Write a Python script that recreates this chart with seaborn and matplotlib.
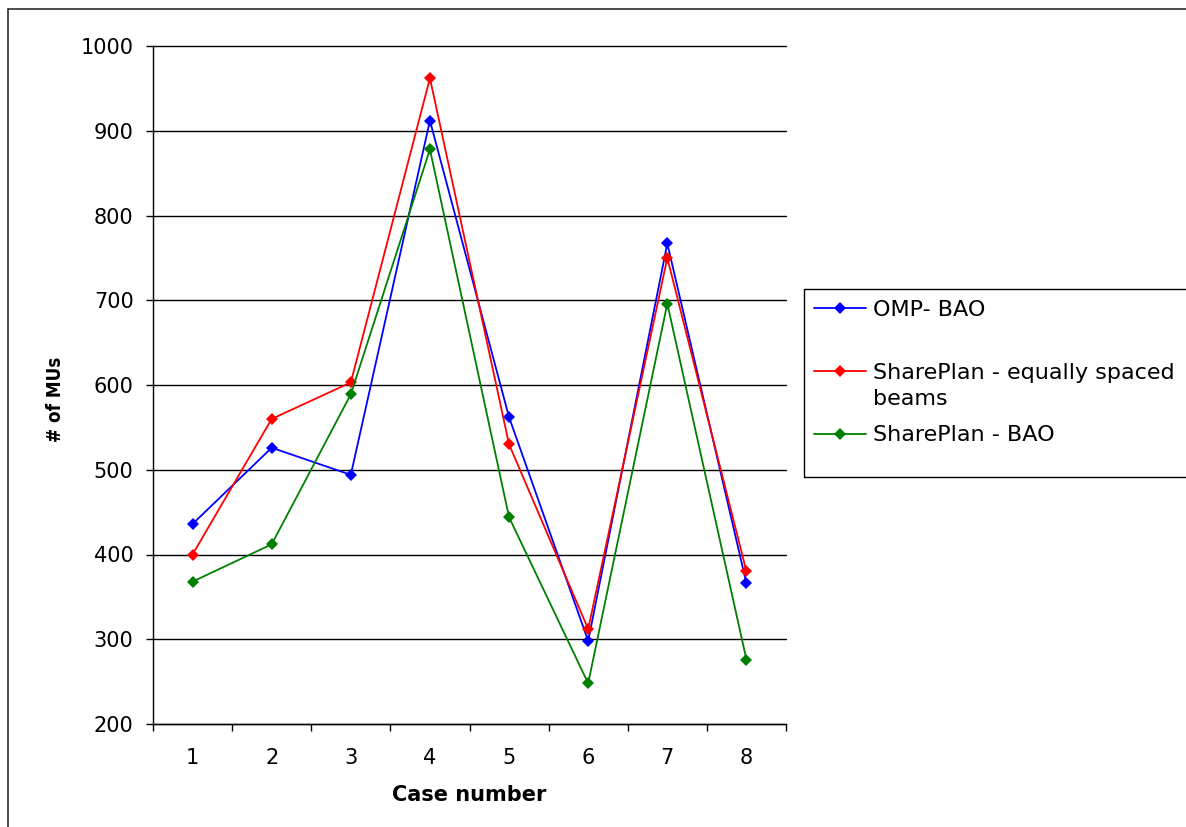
import numpy as np
import pandas as pd
import matplotlib
matplotlib.use("Agg")
import matplotlib.pyplot as plt
from matplotlib.patches import Rectangle
import seaborn as sns

# Monitor units per case for the three planning approaches
cases = [1, 2, 3, 4, 5, 6, 7, 8]
omp_bao = [436, 526, 494, 912, 562, 298, 767, 366]
shareplan_equal = [400, 560, 603, 962, 530, 312, 750, 380]
shareplan_bao = [368, 412, 589, 878, 444, 248, 696, 276]

series_names = ["OMP- BAO", "SharePlan - equally spaced", "SharePlan - BAO"]
series_colors = ["#0000FF", "#FF0000", "#008000"]
y_ticks = [200, 300, 400, 500, 600, 700, 800, 900, 1000]

df = pd.DataFrame({
    "case": cases * 3,
    "mus": omp_bao + shareplan_equal + shareplan_bao,
    "series": [s for s in series_names for _ in cases],
})

sns.set_theme(style="white")
plt.rcParams["font.family"] = ["DejaVu Sans"]
plt.rcParams["text.color"] = "black"
plt.rcParams["legend.labelcolor"] = "black"

W, H = 1186, 827
fig = plt.figure(figsize=(W / 100, H / 100), dpi=100)
fig.patch.set_facecolor("white")

ax = fig.add_axes([153 / W, 1 - 724 / H, (786 - 153) / W, (724 - 46) / H])
ax.set_facecolor("white")

sns.lineplot(data=df, x="case", y="mus", hue="series", hue_order=series_names,
             palette=series_colors, marker="D", markersize=6.4,
             markeredgewidth=0, linewidth=1.3, ax=ax, legend=False)

# Axis limits and category ticks between cases
ax.set_xlim(0.5, 8.5)
ax.set_ylim(200, 1000)
ax.set_xticks(np.arange(0.5, 9.0, 1.0))
ax.set_xticklabels([])
ax.set_xticks(cases, minor=True)
ax.set_xticklabels([str(c) for c in cases], minor=True)
ax.set_yticks(y_ticks)
ax.set_yticklabels([str(v) for v in y_ticks])

ax.tick_params(axis="x", which="major", direction="out", length=5, width=1.0,
               color="black", bottom=True)
ax.tick_params(axis="x", which="minor", length=0, pad=17, labelsize=15,
               labelcolor="black", bottom=True)
ax.tick_params(axis="y", which="major", direction="out", length=5, width=1.0,
               color="black", left=True, pad=9, labelsize=15, labelcolor="black")

ax.grid(False)
for v in y_ticks:
    ax.axhline(v, color="black", linewidth=1.0, zorder=0.5, clip_on=False)

for side in ["top", "right"]:
    ax.spines[side].set_visible(False)
for side in ["left", "bottom"]:
    ax.spines[side].set_color("black")
    ax.spines[side].set_linewidth(1.0)

ax.set_xlabel("Case number", fontsize=15, fontweight="bold", color="black", va="center")
ax.xaxis.set_label_coords(0.5, (724 - 795) / (724 - 46))
ax.set_ylabel("# of MUs", fontsize=13.5, fontweight="bold", color="black", va="center",
              fontstretch="condensed")
ax.yaxis.set_label_coords((55 - 153) / (786 - 153), (724 - 399) / (724 - 46))

# Legend with frame running off the right edge
handles = ax.lines[:3]
leg = fig.legend(handles, series_names, loc="upper left",
                 bbox_to_anchor=(814 / W, 1 - 300 / H), frameon=False,
                 fontsize=16, borderpad=0, borderaxespad=0, labelspacing=1.92,
                 handlelength=2.35, handletextpad=0.3, numpoints=1,
                 labelcolor="black")
fig.add_artist(Rectangle((804 / W, 1 - 477 / H), 0.5, (477 - 289) / H,
                         transform=fig.transFigure, fill=False,
                         edgecolor="black", linewidth=1.0, clip_on=False))

# Outer chart border
fig.add_artist(Rectangle((8 / W, -0.1), 1.2, 1.1 - 9 / H,
                         transform=fig.transFigure, fill=False,
                         edgecolor="#1a1a1a", linewidth=1.1, clip_on=False))

# Wrapped second line of the long legend label
fig.canvas.draw()
bb = leg.get_texts()[1].get_window_extent()
fig.text(bb.x0 / W, (bb.y0 - 26) / H, "beams", fontsize=16, color="black",
         ha="left", va="bottom")

fig.savefig("out.png", dpi=100, facecolor="white")
